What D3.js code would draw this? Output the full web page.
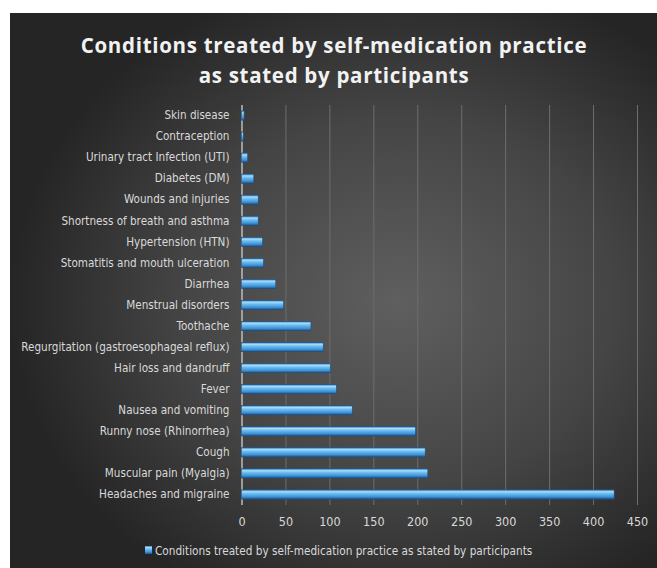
<!DOCTYPE html>
<html>
<head>
<meta charset="utf-8">
<script src="https://cdn.jsdelivr.net/npm/d3@7"></script>
<style>
  body { margin: 0; background: #fff; }
  svg { display: block; }
  .lbl { font-family: "Liberation Sans Narrow", "DejaVu Sans Condensed", Lato, sans-serif; }
</style>
</head>
<body>
<svg></svg>
<script>
// categories top -> bottom, as in the picture
const conditions = [
  "Skin disease",
  "Contraception",
  "Urinary tract Infection (UTI)",
  "Diabetes (DM)",
  "Wounds and injuries",
  "Shortness of breath and asthma",
  "Hypertension (HTN)",
  "Stomatitis and mouth ulceration",
  "Diarrhea",
  "Menstrual disorders",
  "Toothache",
  "Regurgitation (gastroesophageal reflux)",
  "Hair loss and dandruff",
  "Fever ",
  "Nausea and vomiting",
  "Runny nose (Rhinorrhea)",
  "Cough",
  "Muscular pain (Myalgia)",
  "Headaches and migraine"
];
const counts = [3, 2, 7, 14, 19, 19, 24, 25, 39, 48, 79, 93, 101, 108, 126, 198, 209, 212, 424];
const xTicks = [0, 50, 100, 150, 200, 250, 300, 350, 400, 450];
const titleLines = ["Conditions treated by self-medication practice", "as stated by participants"];
const legendText = "Conditions treated by self-medication practice as stated by participants";

const render = (data) => {
  const width = 657;
  const height = 568;
  const margin = {top: 105, right: 20, bottom: 63, left: 241.5};
  const graphWidth = 637 - margin.left;
  const graphHeight = height - margin.top - margin.bottom;

  const svg = d3.select("svg")
    .attr("width", width)
    .attr("height", height);

  const defs = svg.append("defs");
  const bg = defs.append("radialGradient")
    .attr("id", "bg")
    .attr("cx", "60%").attr("cy", "52%").attr("r", "60%");
  bg.append("stop").attr("offset", "0%").attr("stop-color", "#5f5f5f");
  bg.append("stop").attr("offset", "55%").attr("stop-color", "#454545");
  bg.append("stop").attr("offset", "100%").attr("stop-color", "#252525");

  const barGrad = defs.append("linearGradient")
    .attr("id", "bar")
    .attr("x1", 0).attr("y1", 0).attr("x2", 0).attr("y2", 1);
  [["0%", "#3a86c8"], ["20%", "#a6dcfa"], ["40%", "#6fbdf0"], ["75%", "#3d93d8"], ["100%", "#1d5188"]]
    .forEach(s => barGrad.append("stop").attr("offset", s[0]).attr("stop-color", s[1]));

  svg.append("rect")
    .attr("x", 10).attr("y", 13)
    .attr("width", width - 10).attr("height", height - 13)
    .attr("fill", "url(#bg)");

  // title
  svg.append("text")
    .attr("class", "graph-title")
    .attr("text-anchor", "middle")
    .attr("fill", "#f2f2f2")
    .attr("font-family", "'Open Sans', sans-serif")
    .attr("font-weight", "bold")
    .attr("font-size", 20.5)
    .attr("letter-spacing", 0.7)
    .selectAll("tspan")
    .data(titleLines)
    .enter().append("tspan")
      .attr("x", 334)
      .attr("y", (d, i) => 53 + i * 30)
      .text(d => d);

  const graph = svg.append("g")
    .attr("transform", `translate(${margin.left}, ${margin.top})`);

  const xValue = d => d.count;
  const yValue = d => d.condition;

  const xScale = d3.scaleLinear()
    .domain([0, 450])
    .range([0, graphWidth]);

  const yScale = d3.scaleBand()
    .domain(data.map(yValue))
    .range([0, graphHeight])
    .paddingInner(0.56)
    .paddingOuter(0.28);

  const xAxisGroup = graph.append("g")
    .attr("transform", `translate(0, ${graphHeight})`);
  const yAxisGroup = graph.append("g");

  const xAxis = d3.axisBottom(xScale)
    .tickValues(xTicks)
    .tickSize(-graphHeight)
    .tickPadding(12);
  xAxis(xAxisGroup);

  xAxisGroup.select(".domain").remove();
  xAxisGroup.selectAll(".tick line")
    .attr("stroke", d => d === 0 ? "#bdbdbd" : "#6e6e6e")
    .attr("stroke-width", d => d === 0 ? 1.5 : 1);
  xAxisGroup.selectAll("text")
    .attr("class", "lbl")
    .attr("fill", "#d9d9d9")
    .attr("font-size", 12.5);

  const yAxis = d3.axisLeft(yScale).tickSize(0).tickPadding(12);
  yAxis(yAxisGroup);
  yAxisGroup.select(".domain").remove();
  yAxisGroup.selectAll("text")
    .attr("class", "lbl")
    .attr("fill", "#d9d9d9")
    .attr("font-size", 11.6);

  const rects = graph.selectAll("rect.bar")
    .data(data);

  rects
    .enter().append("rect")
      .attr("class", "bar")
      .attr("x", 0)
      .attr("y", d => yScale(yValue(d)))
      .attr("width", d => xScale(xValue(d)))
      .attr("height", yScale.bandwidth())
      .attr("fill", "url(#bar)")
      .attr("stroke", "#1f4f7e")
      .attr("stroke-width", 0.6);

  // legend
  const legend = svg.append("g")
    .attr("transform", "translate(145, 551)");
  legend.append("rect")
    .attr("x", 0).attr("y", -5)
    .attr("width", 7).attr("height", 8)
    .attr("fill", "url(#bar)");
  legend.append("text")
    .attr("class", "lbl")
    .attr("x", 10)
    .attr("y", 4)
    .attr("fill", "#d9d9d9")
    .attr("font-size", 11.7)
    .text(legendText);
};

const rows = conditions.map((c, i) => ({condition: c, count: counts[i]}));
render(rows);
</script>
</body>
</html>
